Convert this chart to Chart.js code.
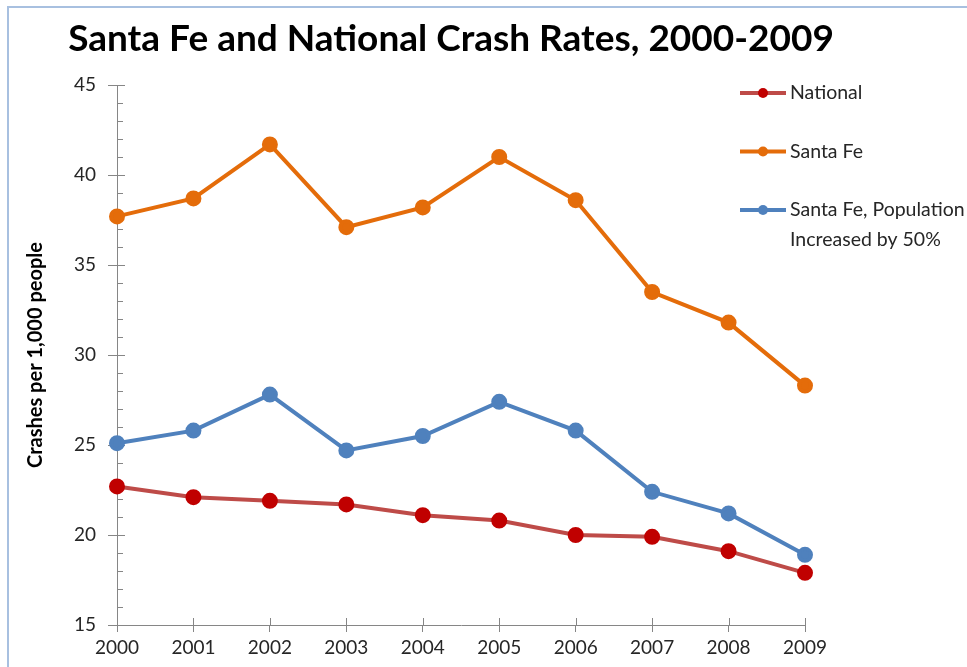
<!DOCTYPE html>
<html>
<head>
<meta charset="utf-8">
<title>Santa Fe and National Crash Rates, 2000-2009</title>
<script src="https://cdn.jsdelivr.net/npm/chart.js@4.4.1/dist/chart.umd.min.js"></script>
<style>
  html, body { margin: 0; padding: 0; background: #fff; overflow: hidden; }
</style>
</head>
<body>
<canvas id="crash" width="967" height="667"></canvas>
<script>
let chartTitle = "Santa Fe and National Crash Rates, 2000-2009";
let yTitle = "Crashes per 1,000 people";

let years = ["2000", "2001", "2002", "2003", "2004", "2005", "2006", "2007", "2008", "2009"];
let national = [22.7, 22.1, 21.9, 21.7, 21.1, 20.8, 20.0, 19.9, 19.1, 17.9];
let santaFe = [37.7, 38.7, 41.7, 37.1, 38.2, 41.0, 38.6, 33.5, 31.8, 28.3];
let santaFePop50 = [25.1, 25.8, 27.8, 24.7, 25.5, 27.4, 25.8, 22.4, 21.2, 18.9];

let yMin = 15;
let yMax = 45;
let yStep = 5;

let axisGrey = "#868686";
let textDark = "#262626";

// light blue frame + title
let frame = {
  id: "frame",
  beforeDraw(chart) {
    let c = chart.ctx;
    c.save();
    c.fillStyle = "#fff";
    c.fillRect(0, 0, chart.width, chart.height);
    c.strokeStyle = "#a8c0e0";
    c.lineWidth = 2;
    c.beginPath();
    c.moveTo(8, chart.height + 2);
    c.lineTo(8, 7);
    c.lineTo(chart.width + 2, 7);
    c.stroke();
    c.font = "bold 37px Lato";
    c.fillStyle = "#000";
    c.textAlign = "center";
    c.textBaseline = "middle";
    c.fillText(chartTitle, 451, 39);
    c.restore();
  },
};

// inner tick marks (minor ticks on y every 1 unit)
let axisTicks = {
  id: "axisTicks",
  beforeDatasetsDraw(chart) {
    let c = chart.ctx;
    let a = chart.chartArea;
    let y = chart.scales.y;
    let x = chart.scales.x;
    c.save();
    c.strokeStyle = axisGrey;
    c.lineWidth = 1;
    c.beginPath();
    for (let v = y.min; v <= y.max; v++) {
      let py = Math.round(y.getPixelForValue(v)) + 0.5;
      c.moveTo(a.left, py);
      c.lineTo(a.left + (v % yStep ? 6 : 8), py);
    }
    x.ticks.forEach((t, i) => {
      let px = Math.round(x.getPixelForTick(i)) + 0.5;
      c.moveTo(px, a.bottom);
      c.lineTo(px, a.bottom - 7);
    });
    c.stroke();
    c.restore();
  },
};

function wrapText(c, text, maxW) {
  let words = text.split(" ");
  let lines = [];
  let cur = "";
  words.forEach((w) => {
    let t = cur ? cur + " " + w : w;
    if (cur && c.measureText(t).width > maxW) {
      lines.push(cur);
      cur = w;
    } else {
      cur = t;
    }
  });
  if (cur) lines.push(cur);
  return lines;
}

// legend on the right
let sideLegend = {
  id: "sideLegend",
  afterDraw(chart) {
    let c = chart.ctx;
    c.save();
    c.font = "19.5px Lato";
    c.textAlign = "left";
    c.textBaseline = "middle";
    let yy = 93;
    chart.data.datasets.forEach((ds) => {
      c.strokeStyle = ds.borderColor;
      c.lineWidth = 4;
      c.beginPath();
      c.moveTo(740, yy);
      c.lineTo(786, yy);
      c.stroke();
      c.fillStyle = ds.pointBackgroundColor;
      c.beginPath();
      c.arc(763, yy, 5, 0, Math.PI * 2);
      c.fill();
      c.fillStyle = textDark;
      wrapText(c, ds.label, 200).forEach((ln, i) => c.fillText(ln, 790, yy + i * 30));
      yy += 58.5;
    });
    c.restore();
  },
};

let ctx = document.getElementById("crash").getContext("2d");
let crash = new Chart(ctx, {
  type: "line",
  data: {
    labels: years,
    datasets: [
      {
        label: "National",
        data: national,
        borderColor: "#be4b48",
        pointBackgroundColor: "#c00000",
        pointBorderColor: "#c00000",
        borderWidth: 4,
        pointRadius: 6,
        tension: 0,
      },
      {
        label: "Santa Fe",
        data: santaFe,
        borderColor: "#e46c0a",
        pointBackgroundColor: "#e46c0a",
        pointBorderColor: "#e46c0a",
        borderWidth: 4,
        pointRadius: 6,
        tension: 0,
      },
      {
        label: "Santa Fe, Population Increased by 50%",
        data: santaFePop50,
        borderColor: "#4f81bd",
        pointBackgroundColor: "#4f81bd",
        pointBorderColor: "#4f81bd",
        borderWidth: 4,
        pointRadius: 6,
        tension: 0,
      },
    ],
  },
  options: {
    responsive: false,
    animation: false,
    layout: {
      padding: { top: 85, right: 162, left: 0, bottom: 0 },
    },
    plugins: {
      legend: { display: false },
      title: { display: false },
      tooltip: { enabled: false },
    },
    scales: {
      x: {
        offset: false,
        border: { color: axisGrey, width: 1 },
        grid: { drawOnChartArea: false, color: axisGrey, tickLength: 7 },
        ticks: {
          color: textDark,
          font: { family: "Lato", size: 19 },
          padding: 4,
          maxRotation: 0,
        },
        afterFit(scale) {
          scale.height = 42;
        },
      },
      y: {
        min: yMin,
        max: yMax,
        border: { color: axisGrey, width: 1 },
        grid: { drawOnChartArea: false, color: axisGrey, tickLength: 9 },
        ticks: {
          stepSize: yStep,
          color: textDark,
          font: { family: "Lato", size: 19 },
          padding: 12,
        },
        title: {
          display: true,
          text: yTitle,
          color: "#000",
          font: { family: "Lato", size: 20, weight: "bold" },
          padding: { top: 24, bottom: 0 },
        },
        afterFit(scale) {
          scale.width = 117;
        },
      },
    },
  },
  plugins: [frame, axisTicks, sideLegend],
});
</script>
</body>
</html>
